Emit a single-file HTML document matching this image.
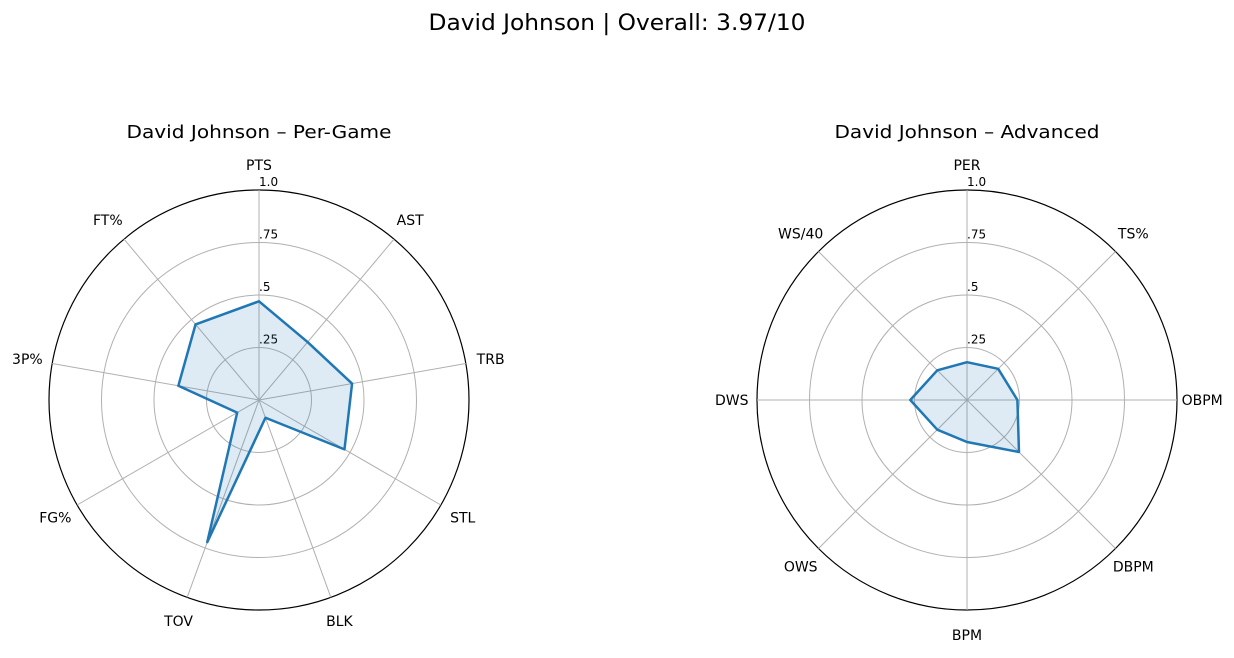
<!DOCTYPE html>
<html><head><meta charset="utf-8"><style>
body{margin:0;background:#fff;font-family:"Liberation Sans","DejaVu Sans",sans-serif}
</style></head><body>
<svg id="s" width="1234" height="653" xmlns="http://www.w3.org/2000/svg" font-family="DejaVu Sans, Liberation Sans, sans-serif">
<text x="617" y="30" text-anchor="middle" font-size="22" textLength="377" lengthAdjust="spacingAndGlyphs">David Johnson | Overall: 3.97/10</text>
</svg>
<script>
const perGameCats=["PTS","AST","TRB","STL","BLK","TOV","FG%","3P%","FT%"];
const perGameVals=[0.47,0.36,0.45,0.47,0.09,0.72,0.12,0.39,0.47];
const advCats=["PER","TS%","OBPM","DBPM","BPM","OWS","DWS","WS/40"];
const advVals=[0.18,0.21,0.24,0.35,0.2,0.2,0.27,0.2];
const ringTicks=[0.25,0.5,0.75,1.0];
const ringLabels=[".25",".5",".75","1.0"];
const svg=document.getElementById('s');
const NS="http://www.w3.org/2000/svg";
function mk(t,a,p){const e=document.createElementNS(NS,t);for(const k in a)e.setAttribute(k,a[k]);(p||svg).appendChild(e);return e;}
function radar(cx,cy,R,cats,vals,title,key,tl){
  const g=mk('g',{});
  
  
  const t=mk('text',{x:cx,y:cy-262,'text-anchor':'middle','font-size':18,textLength:tl,lengthAdjust:'spacingAndGlyphs'},g);t.textContent=title;
  
  
  const n=cats.length;
  const ang=i=>i*2*Math.PI/n;
  const pt=(i,r)=>[cx+R*r*Math.sin(ang(i)),cy-R*r*Math.cos(ang(i))];
  ringTicks.forEach((v,j)=>{
    const c=mk('circle',{cx:cx,cy:cy,r:R*v,fill:'none',stroke:v===1?'#000':'#b0b0b0','stroke-width':v===1?1.2:1},g);
    
    
  });
  cats.forEach((c,i)=>{
    const [x,y]=pt(i,1);
    const l=mk('line',{x1:cx,y1:cy,x2:x,y2:y,stroke:'#b0b0b0','stroke-width':1},g);
    
    
    const [lx,ly]=pt(i,1.12);
    const tx=mk('text',{x:lx,y:ly+5,'text-anchor':'middle','font-size':14},g);
    tx.textContent=c;
    
    
  });
  ringTicks.forEach((v,j)=>{
    const tx=mk('text',{x:cx,y:cy-R*v-4,'font-size':12},g);
    tx.textContent=ringLabels[j];
    
    
  });
  const pts=vals.map((v,i)=>pt(i,v).join(',')).join(' ');
  const p=mk('polygon',{points:pts,fill:'rgba(31,119,180,0.15)',stroke:'#1f77b4','stroke-width':2.5,'stroke-linejoin':'round'},g);
  
  
}
radar(259,400,210,perGameCats,perGameVals,"David Johnson – Per-Game","per-game",265);
radar(967,400,210,advCats,advVals,"David Johnson – Advanced","advanced",265);
</script>
</body></html>
